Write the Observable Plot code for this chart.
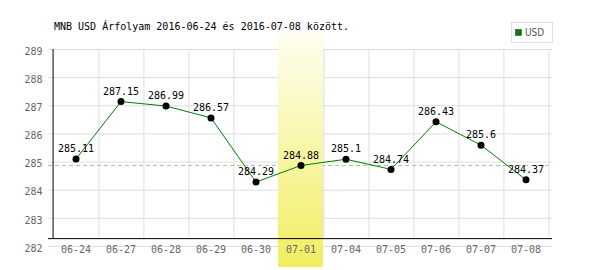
<!DOCTYPE html>
<html><head><meta charset="utf-8">
<script src="https://cdn.jsdelivr.net/npm/d3@7"></script>
<script src="https://cdn.jsdelivr.net/npm/@observablehq/plot@0.6"></script>
<style>body{margin:0;background:#fff} svg{display:block}</style>
</head><body><div id="chart"></div>
<script>
const dates = ["06-24","06-27","06-28","06-29","06-30","07-01","07-04","07-05","07-06","07-07","07-08"];
const usd = [285.11,287.15,286.99,286.57,284.29,284.88,285.1,284.74,286.43,285.6,284.37];
const valueLabels = ["285.11","287.15","286.99","286.57","284.29","284.88","285.1","284.74","286.43","285.6","284.37"];
const yTicks = [282,283,284,285,286,287,288,289];
const highlightDate = "07-01";
const refValue = 284.88;
const titleText = "MNB USD Árfolyam 2016-06-24 és 2016-07-08 között.";
const seriesName = "USD";
const axisBase = 282.28;

const data = dates.map((d,i)=>({date:d, value:usd[i], label:valueLabels[i]}));
const W=600, H=270, mL=48, mR=48;
const bw = (W-mL-mR)/dates.length;

const chart = Plot.plot({
  width: W, height: H, marginLeft: mL, marginRight: mR, marginTop: 33, marginBottom: 3,
  style: {fontFamily: "'DejaVu Sans Mono', monospace", fontSize: "10px", background: "#fff", overflow: "visible"},
  x: {type: "band", domain: dates, padding: 0, axis: null},
  y: {domain: [282, 289], range: [246, 49], axis: null},
  marks: [
    Plot.ruleY(yTicks, {stroke: "#ddd", strokeWidth: 1}),
    Plot.ruleX(dates, {x: d=>d, dx: bw/2, y1: axisBase, y2: 289, stroke: "#ddd"}),
    Plot.ruleY([refValue], {stroke: "#9c9", strokeDasharray: "4,3"}),
    Plot.cell([highlightDate], {x: d=>d, fill: "url(#hl)"}),
    Plot.ruleX([dates[0]], {x: d=>d, dx: -bw/2, y1: axisBase, y2: 289, stroke: "#000"}),
    Plot.ruleY([axisBase], {stroke: "#000"}),
    Plot.text(yTicks, {y: d=>d, frameAnchor: "left", dx: -6, dy: 2, textAnchor: "end", fill: "#666", text: d=>String(d)}),
    Plot.text(dates, {x: d=>d, y: 282, dy: 3, fill: "#666", text: d=>d}),
    Plot.line(data, {x: "date", y: "value", stroke: "#008000", strokeWidth: 1}),
    Plot.dot(data, {x: "date", y: "value", r: 3.5, fill: "#000"}),
    Plot.text(data, {x: "date", y: "value", text: "label", dy: -10, fill: "#000"})
  ]
});

const svg = d3.select(chart);
const defs = svg.insert("defs", ":first-child");
const g = defs.append("linearGradient").attr("id","hl").attr("x1",0).attr("y1",0).attr("x2",0).attr("y2",1);
g.append("stop").attr("offset","0%").attr("stop-color","#fefef0");
g.append("stop").attr("offset","100%").attr("stop-color","#f0ee60");

svg.append("text").attr("x",54).attr("y",29.5).attr("fill","#000").attr("text-anchor","start").text(titleText);
const lg = svg.append("g");
lg.append("rect").attr("x",511.5).attr("y",22.5).attr("width",41).attr("height",20).attr("fill","#fff").attr("stroke","#ddd");
lg.append("rect").attr("x",515.5).attr("y",29.5).attr("width",6).attr("height",6).attr("fill","#008000").attr("stroke","#333").attr("stroke-width",0.5);
lg.append("text").attr("x",525).attr("y",36).attr("fill","#555").attr("text-anchor","start")
  .style("font-family","'DejaVu Sans Condensed','Liberation Sans Narrow',sans-serif").style("font-size","10px").text(seriesName);

document.getElementById("chart").appendChild(chart);
</script>
</body></html>
